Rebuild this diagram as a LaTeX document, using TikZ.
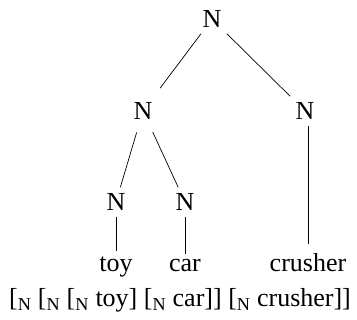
\documentclass[tikz,border=0pt]{standalone}
\usepackage{fontspec}
\setmainfont{Liberation Serif}
\usepackage{tikz}
\usetikzlibrary{positioning}

\tikzset{
    cat/.style={inner sep=6pt, font=\fontsize{26}{30}\selectfont},
    word/.style={inner sep=6pt, font=\fontsize{26}{30}\selectfont},
    branch/.style={black, line width=0.7pt}
}

\begin{document}
\begin{tikzpicture}[x=1pt, y=-1pt]
    \useasboundingbox (0, 0) rectangle (357, 320);

    % categories
    \node[cat] (nroot)  at (212, 19)  {N};
    \node[cat] (nleft)  at (143, 111) {N};
    \node[cat] (nright) at (305, 111) {N};
    \node[cat] (ntoy)   at (116, 202) {N};
    \node[cat] (ncar)   at (185, 202) {N};

    % words
    \node[word, anchor=base] (wtoy)     at (116, 272) {toy};
    \node[word, anchor=base] (wcar)     at (185, 272) {car};
    \node[word, anchor=base] (wcrusher) at (308, 272) {crusher};

    % branches
    \draw[branch, shorten >=10pt] (nroot) -- (nleft);
    \draw[branch] (nroot) -- (nright);
    \draw[branch, shorten <=7pt] (nleft) -- (ntoy);
    \draw[branch, shorten <=7pt] (nleft) -- (ncar);
    \draw[branch] (ntoy) -- (wtoy);
    \draw[branch] (ncar) -- (wcar);
    \draw[branch, shorten >=4pt] (nright.south -| wcrusher) -- (wcrusher);

    % bracketing
    \node[font=\fontsize{26}{30}\selectfont, anchor=base] (bracket) at (180, 307)
        {[\textsubscript{N} [\textsubscript{N} [\textsubscript{N} toy] [\textsubscript{N} car]] [\textsubscript{N} crusher]]};
\end{tikzpicture}
\end{document}
